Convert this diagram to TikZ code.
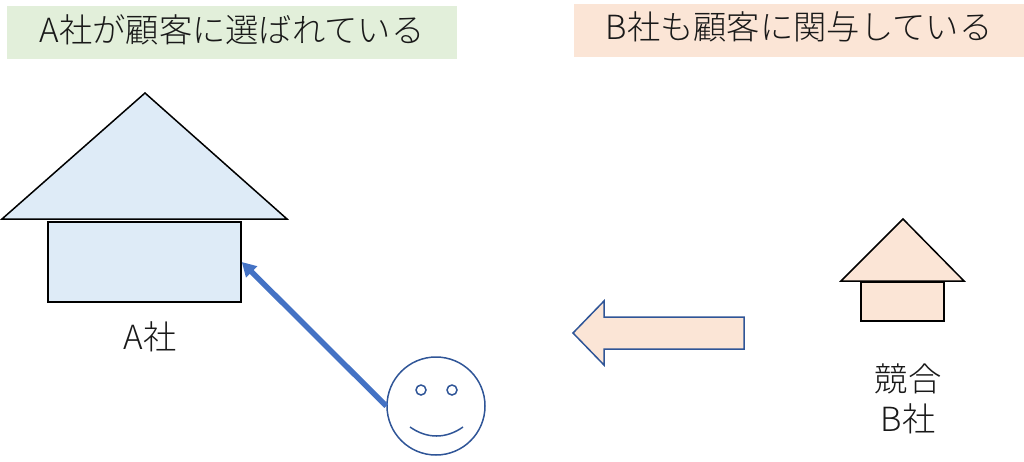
\documentclass[tikz,border=0pt]{standalone}
\usepackage{fontspec}
\usepackage{xcolor}
\usetikzlibrary{arrows.meta}
\setmainfont{Noto Sans CJK JP}[UprightFont=* Light,BoldFont=* Light]
\definecolor{paleblue}{HTML}{DEEBF7}
\definecolor{paleorange}{HTML}{FBE5D6}
\definecolor{palegreen}{HTML}{E2EFDA}
\definecolor{midblue}{HTML}{4472C4}
\definecolor{darkblue}{HTML}{2F5597}
\tikzset{banner/.style={minimum height=53pt,minimum width=450pt,inner sep=0pt,text height=29pt,text depth=10pt,text=black!90,font=\fontsize{33.3}{35}\selectfont},
	bodybox/.style={draw,line width=1.5pt,inner sep=0pt},
	roof/.style={draw,line width=1.5pt,line join=miter},
	eye/.style={circle,draw=darkblue,line width=1.5pt,minimum size=10pt,inner sep=0pt},
	label/.style={inner sep=0pt,align=center,text=black!90,font=\fontsize{33.3}{40}\selectfont}}
\begin{document}
\begin{tikzpicture}[x=1pt,y=-1pt]
\useasboundingbox (0,0) rectangle (1024,461);
\node [banner,fill=palegreen] (titleA) at (232,32.5) {A社が顧客に選ばれている};
\node [banner,fill=paleorange] (titleB) at (799,30) {B社も顧客に関与している};
\filldraw [roof,fill=paleblue] (145,93) -- (287,219) -- (2,219) -- cycle;
\node [bodybox,fill=paleblue,minimum width=193pt,minimum height=80pt] (bodyA) at (144.5,262) {};
\node [label] (nameA) at (150,337) {A社};
\filldraw [roof,fill=paleorange] (903,219) -- (964,281) -- (841,281) -- cycle;
\node [bodybox,fill=paleorange,minimum width=83pt,minimum height=39pt] (bodyB) at (902.5,301.5) {};
\node [label] (nameB) at (908,399) {競合\\B社};
% smiling customer
\node [circle,draw=darkblue,line width=1.5pt,minimum size=98pt,inner sep=0pt] (face) at (436,406) {};
\node [eye] (eyeL) at (421,390) {};
\node [eye] (eyeR) at (452,390) {};
\draw [darkblue,line width=1.5pt] (410,427) .. controls (427,439) and (446,439) .. (463,427);
\draw [midblue,line width=5.5pt,-{Triangle[length=14pt,width=15pt]}] (face.west) -- (bodyA.east);
% big arrow
\filldraw [draw=darkblue,line width=1.5pt,fill=paleorange] (573,333) -- (604,301) -- (604,317) -- (744,317)
  -- (744,349) -- (604,349) -- (604,365) -- cycle;
\end{tikzpicture}
\end{document}
